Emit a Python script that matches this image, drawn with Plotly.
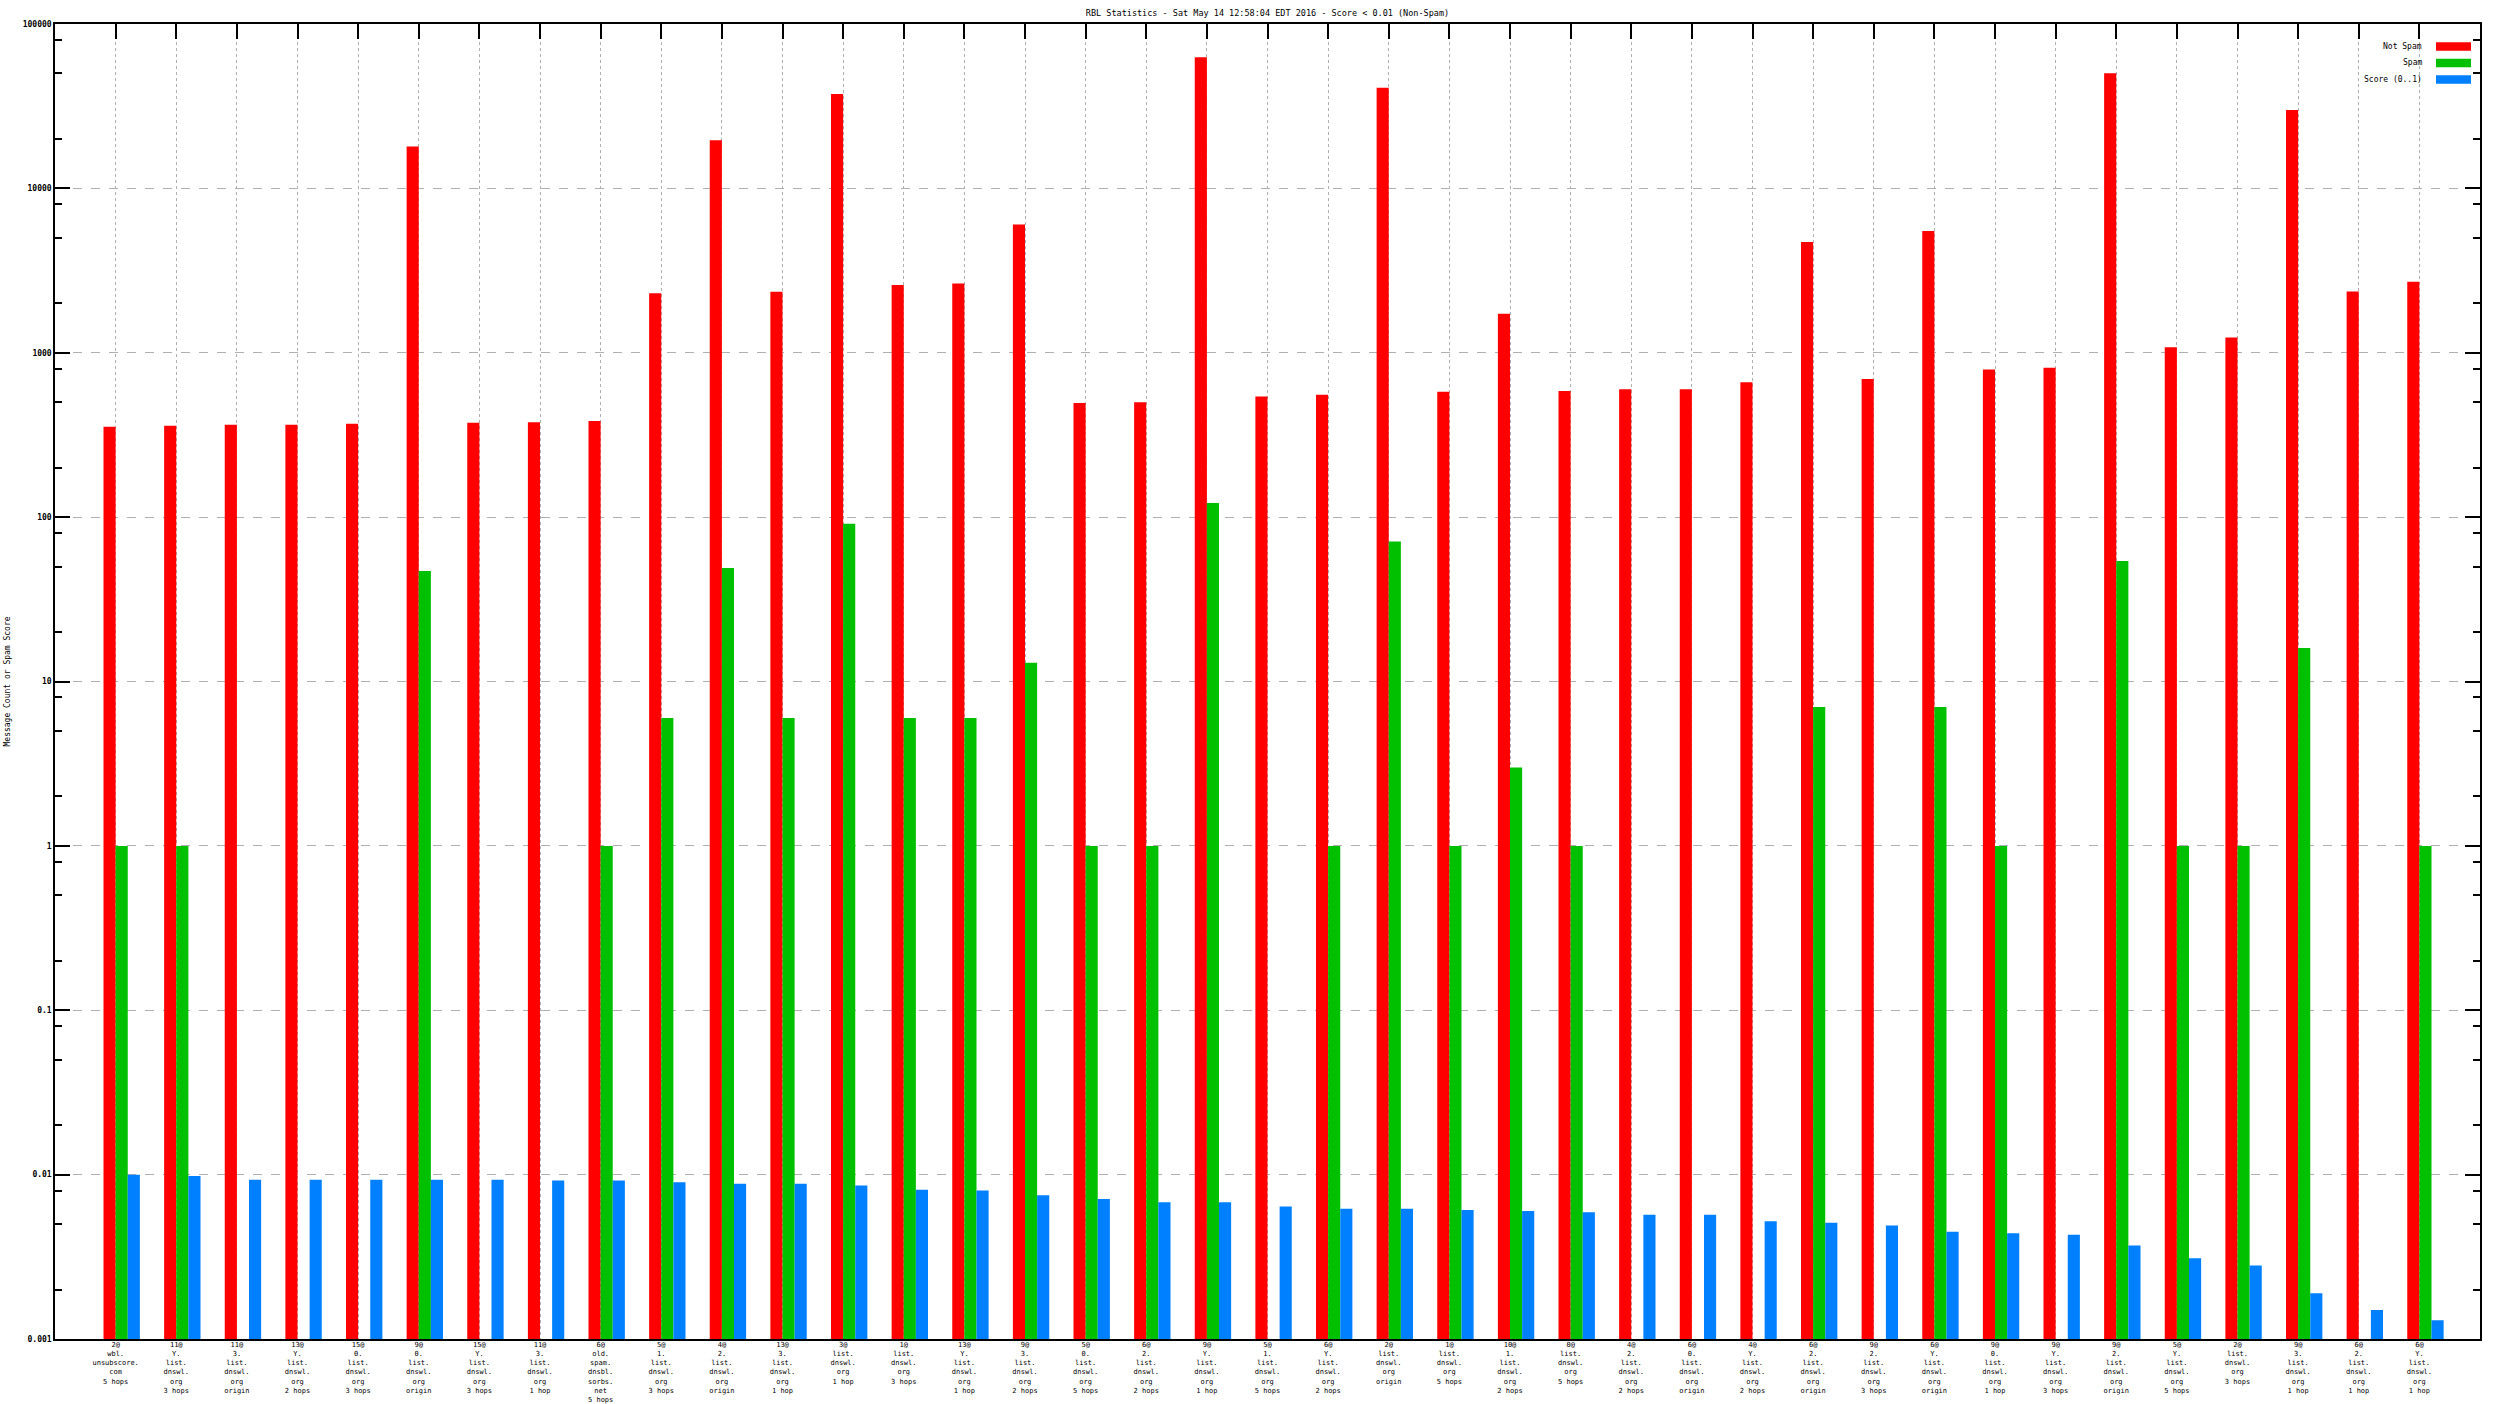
import plotly.graph_objects as go

# ---------------- data ----------------
categories = [
    "2@\nwbl.\nunsubscore.\ncom\n5 hops",
    "11@\nY.\nlist.\ndnswl.\norg\n3 hops",
    "11@\n3.\nlist.\ndnswl.\norg\norigin",
    "13@\nY.\nlist.\ndnswl.\norg\n2 hops",
    "15@\n0.\nlist.\ndnswl.\norg\n3 hops",
    "9@\n0.\nlist.\ndnswl.\norg\norigin",
    "15@\nY.\nlist.\ndnswl.\norg\n3 hops",
    "11@\n3.\nlist.\ndnswl.\norg\n1 hop",
    "6@\nold.\nspam.\ndnsbl.\nsorbs.\nnet\n5 hops",
    "5@\n1.\nlist.\ndnswl.\norg\n3 hops",
    "4@\n2.\nlist.\ndnswl.\norg\norigin",
    "13@\n3.\nlist.\ndnswl.\norg\n1 hop",
    "3@\nlist.\ndnswl.\norg\n1 hop",
    "1@\nlist.\ndnswl.\norg\n3 hops",
    "13@\nY.\nlist.\ndnswl.\norg\n1 hop",
    "9@\n3.\nlist.\ndnswl.\norg\n2 hops",
    "5@\n0.\nlist.\ndnswl.\norg\n5 hops",
    "6@\n2.\nlist.\ndnswl.\norg\n2 hops",
    "9@\nY.\nlist.\ndnswl.\norg\n1 hop",
    "5@\n1.\nlist.\ndnswl.\norg\n5 hops",
    "6@\nY.\nlist.\ndnswl.\norg\n2 hops",
    "2@\nlist.\ndnswl.\norg\norigin",
    "1@\nlist.\ndnswl.\norg\n5 hops",
    "10@\n1.\nlist.\ndnswl.\norg\n2 hops",
    "0@\nlist.\ndnswl.\norg\n5 hops",
    "4@\n2.\nlist.\ndnswl.\norg\n2 hops",
    "6@\n0.\nlist.\ndnswl.\norg\norigin",
    "4@\nY.\nlist.\ndnswl.\norg\n2 hops",
    "6@\n2.\nlist.\ndnswl.\norg\norigin",
    "9@\n2.\nlist.\ndnswl.\norg\n3 hops",
    "6@\nY.\nlist.\ndnswl.\norg\norigin",
    "9@\n0.\nlist.\ndnswl.\norg\n1 hop",
    "9@\nY.\nlist.\ndnswl.\norg\n3 hops",
    "9@\n2.\nlist.\ndnswl.\norg\norigin",
    "5@\nY.\nlist.\ndnswl.\norg\n5 hops",
    "2@\nlist.\ndnswl.\norg\n3 hops",
    "9@\n3.\nlist.\ndnswl.\norg\n1 hop",
    "6@\n2.\nlist.\ndnswl.\norg\n1 hop",
    "6@\nY.\nlist.\ndnswl.\norg\n1 hop",
]

not_spam = [355, 360, 365, 365, 370, 18000, 375, 378, 385, 2300,
            19600, 2350, 37500, 2580, 2640, 6030, 495, 500, 62700, 542,
            555, 41000, 580, 1725, 585, 600, 600, 662, 4710, 692,
            5510, 791, 810, 50100, 1081, 1236, 30000, 2360, 2700]

spam = [1, 1, 0, 0, 0, 47, 0, 0, 1, 6,
        49, 6, 91, 6, 6, 13, 1, 1, 122, 0,
        1, 71, 1, 3, 1, 0, 0, 0, 7, 0,
        7, 1, 0, 54, 1, 1, 16, 0, 1]

score = [0.0100, 0.0098, 0.0093, 0.0093, 0.0093, 0.0093, 0.0093, 0.0092, 0.0092, 0.0090,
         0.0088, 0.0088, 0.0086, 0.0081, 0.0080, 0.0075, 0.0071, 0.0068, 0.0068, 0.0064,
         0.0062, 0.0062, 0.0061, 0.0060, 0.0059, 0.0057, 0.0057, 0.0052, 0.0051, 0.0049,
         0.0045, 0.0044, 0.0043, 0.0037, 0.0031, 0.0028, 0.0019, 0.0015, 0.0013]

series_names = ["Not Spam", "Spam", "Score (0..1)"]

y_tick_vals = [0.001, 0.01, 0.1, 1, 10, 100, 1000, 10000, 100000]
y_tick_text = ["0.001", "0.01", "0.1", "1", "10", "100", "1000", "10000", "100000"]

title_text = "RBL Statistics - Sat May 14 12:58:04 EDT 2016 - Score < 0.01 (Non-Spam)"
y_title = "Message Count or Spam Score"

# ---------------- styling ----------------
colors = ["#ff0000", "#00c000", "#0080ff"]
FONT = "DejaVu Sans Mono"
W, H = 2496, 1404
ML, MR, MT, MB = 55, 16, 24, 65
BAR_W = 0.2
offsets = [-0.2, 0.0, 0.2]

x_labels = [c.replace("\n", "<br>") for c in categories]
spam_plot = [v if v > 0 else None for v in spam]
values = [not_spam, spam_plot, score]

fig = go.Figure()
for name, vals, col, off in zip(series_names, values, colors, offsets):
    fig.add_trace(go.Bar(
        x=x_labels, y=vals, name=name,
        marker=dict(color=col, line=dict(width=0)),
        width=BAR_W, offset=off, showlegend=False,
    ))

# minor tick values (2, 5, 8 within each decade)
minor_vals = []
for d in range(-3, 5):
    for m in (2, 5, 8):
        minor_vals.append(m * 10 ** d)

fig.update_layout(
    width=W, height=H,
    margin=dict(l=ML, r=MR, t=MT, b=MB, pad=0, autoexpand=False),
    paper_bgcolor="white", plot_bgcolor="white",
    barmode="overlay",
    font=dict(family=FONT, size=8, color="black"),
    title=dict(text=title_text, x=0.5, xref="paper", y=1 - 13 / H, yref="container",
               xanchor="center", yanchor="middle", font=dict(family=FONT, size=8.5)),
    xaxis=dict(
        type="category", range=[-1, 39], automargin=False,
        showline=True, linecolor="black", linewidth=1.5, mirror=True,
        ticks="", tickangle=0, tickfont=dict(family=FONT, size=7),
        ticklabelstandoff=-2,
        showgrid=True, gridcolor="#b0b0b0", griddash="dot", gridwidth=1,
        zeroline=False,
    ),
    xaxis2=dict(
        type="category", range=[-1, 39], overlaying="x", side="top",
        matches="x", showticklabels=False, ticks="inside", ticklen=15,
        tickcolor="black", tickwidth=1.5, showgrid=False, showline=False,
        zeroline=False, automargin=False,
    ),
    yaxis=dict(
        type="log", range=[-3, 5], automargin=False,
        tickvals=y_tick_vals, ticktext=y_tick_text,
        ticks="inside", ticklen=15, tickwidth=1.5, tickcolor="black",
        tickfont=dict(family=FONT, size=8, weight="bold"),
        showline=True, linecolor="black", linewidth=1.5, mirror="ticks",
        showgrid=True, gridcolor="#b0b0b0", griddash="dash", gridwidth=1,
        minor=dict(tickvals=minor_vals, ticks="inside", ticklen=7,
                   tickcolor="black", tickwidth=1.5, showgrid=False),
        zeroline=False,
    ),
)

# invisible trace to drive the top tick axis
fig.add_trace(go.Scatter(x=x_labels, y=[None] * len(x_labels), xaxis="x2",
                         mode="markers", showlegend=False, hoverinfo="skip"))

# y-axis title
fig.add_annotation(text=y_title, xref="paper", yref="paper",
                   x=(7 - ML) / (W - ML - MR), y=0.5, textangle=-90,
                   showarrow=False, xanchor="center", yanchor="middle",
                   font=dict(family=FONT, size=8))

# legend (text on left, colour sample on right, as in the reference)
pw = W - ML - MR
ph = H - MT - MB
row_px = [46.5, 63, 79.5]
for name, col, rp in zip(series_names, colors, row_px):
    yc = (H - MB - rp) / ph
    fig.add_annotation(text=name, xref="paper", yref="paper",
                       x=(2424 - ML) / pw, y=yc, xanchor="right", yanchor="middle",
                       showarrow=False, font=dict(family=FONT, size=8))
    fig.add_shape(type="rect", xref="paper", yref="paper",
                  x0=(2436 - ML) / pw, x1=(2471 - ML) / pw,
                  y0=yc - 4.2 / ph, y1=yc + 4.2 / ph,
                  fillcolor=col, line=dict(width=0))

fig.write_html("out.html", config={"displayModeBar": False},
               post_script="document.body.style.margin='0';")
